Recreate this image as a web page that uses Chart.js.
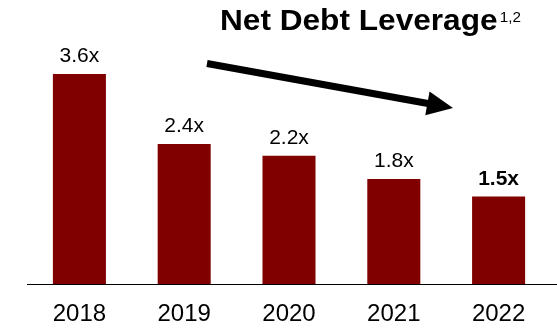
<!DOCTYPE html>
<html>
<head>
<meta charset="utf-8">
<script src="https://cdn.jsdelivr.net/npm/chart.js@4/dist/chart.umd.min.js"></script>
<style>
  html, body { margin: 0; padding: 0; background: #ffffff; }
  #wrap { width: 557px; height: 328px; position: relative; }
</style>
</head>
<body>
<div id="wrap"><canvas id="c"></canvas></div>
<script>
// Net debt leverage by fiscal year
const years = ['2018', '2019', '2020', '2021', '2022'];
const leverage = [3.6, 2.4, 2.2, 1.8, 1.5];
const valueLabels = ['3.6x', '2.4x', '2.2x', '1.8x', '1.5x'];
const boldLabelIndex = 4;
const titleText = 'Net Debt Leverage';
const titleNote = '1,2';

const FONT = '"Liberation Sans", Arial, Helvetica, sans-serif';
const BAR = '#800000';

// Value labels above bars, title, trend arrow and baseline
const decorations = {
  id: 'decorations',
  afterDatasetsDraw(chart) {
    const ctx = chart.ctx;
    const meta = chart.getDatasetMeta(0);
    const xs = chart.scales.x;
    const ys = chart.scales.y;

    // baseline
    ctx.save();
    ctx.strokeStyle = '#000000';
    ctx.lineWidth = 1;
    const by = Math.round(ys.getPixelForValue(0)) + 0.5;
    ctx.beginPath();
    ctx.moveTo(xs.left, by);
    ctx.lineTo(chart.width, by);
    ctx.stroke();
    ctx.restore();

    // value labels
    ctx.save();
    ctx.fillStyle = '#000000';
    ctx.textAlign = 'center';
    ctx.textBaseline = 'alphabetic';
    meta.data.forEach((bar, i) => {
      ctx.font = (i === boldLabelIndex ? 'bold ' : '') + '21px ' + FONT;
      ctx.fillText(valueLabels[i], bar.x, bar.y - 12);
    });
    ctx.restore();

    // title with note marker (slightly widened lettering)
    ctx.save();
    ctx.fillStyle = '#000000';
    ctx.textAlign = 'left';
    ctx.textBaseline = 'alphabetic';
    const tx = 220, stretch = 1.09;
    ctx.translate(tx, 0);
    ctx.scale(stretch, 1);
    ctx.font = 'bold 29px ' + FONT;
    ctx.fillText(titleText, 0, 30);
    const tw = ctx.measureText(titleText).width;
    ctx.font = '14px ' + FONT;
    ctx.fillText(titleNote, tw + 2, 22);
    ctx.restore();

    // downward trend arrow
    ctx.save();
    const x0 = 207, y0 = 63.5, x1 = 453, y1 = 108;
    const ang = Math.atan2(y1 - y0, x1 - x0);
    const headLen = 26, headHalf = 12;
    const bx = x1 - headLen * Math.cos(ang), byy = y1 - headLen * Math.sin(ang);
    ctx.strokeStyle = '#000000';
    ctx.fillStyle = '#000000';
    ctx.lineWidth = 7;
    ctx.beginPath();
    ctx.moveTo(x0, y0);
    ctx.lineTo(bx + 2 * Math.cos(ang), byy + 2 * Math.sin(ang));
    ctx.stroke();
    ctx.beginPath();
    ctx.moveTo(x1, y1);
    ctx.lineTo(bx - headHalf * Math.sin(ang), byy + headHalf * Math.cos(ang));
    ctx.lineTo(bx + headHalf * Math.sin(ang), byy - headHalf * Math.cos(ang));
    ctx.closePath();
    ctx.fill();
    ctx.restore();
  }
};

new Chart(document.getElementById('c'), {
  type: 'bar',
  data: {
    labels: years,
    datasets: [{
      data: leverage,
      backgroundColor: BAR,
      borderWidth: 0,
      categoryPercentage: 1.0,
      barPercentage: 0.506
    }]
  },
  options: {
    responsive: true,
    maintainAspectRatio: false,
    animation: false,
    events: [],
    layout: { padding: { left: 27, right: 6, top: 21.5, bottom: 0 } },
    plugins: {
      legend: { display: false },
      tooltip: { enabled: false },
      title: { display: false }
    },
    scales: {
      x: {
        grid: { display: false, drawTicks: false },
        border: { display: false },
        afterFit(scale) { scale.height = 44; },
        ticks: {
          color: '#000000',
          padding: 16,
          font: { family: FONT, size: 24 }
        }
      },
      y: {
        display: false,
        min: 0,
        max: 4.5
      }
    }
  },
  plugins: [decorations]
});
</script>
</body>
</html>
